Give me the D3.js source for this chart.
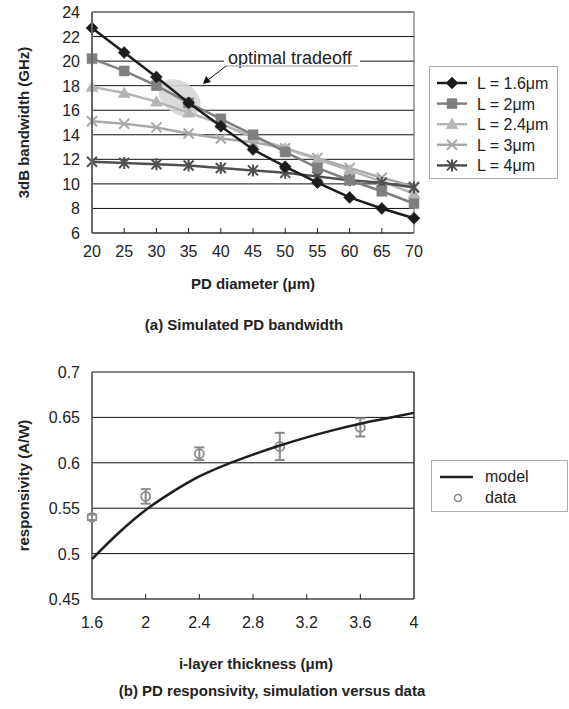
<!DOCTYPE html>
<html>
<head>
<meta charset="utf-8">
<script src="https://cdn.jsdelivr.net/npm/d3@7"></script>
<style>
  body { margin: 0; background: #fff; }
  text { font-family: "Liberation Sans", Arial, sans-serif; fill: #222; }
</style>
</head>
<body>
<svg id="chart" width="569" height="709"></svg>
<script>
// ---- data: (a) simulated bandwidth ----
const diameters = [20, 25, 30, 35, 40, 45, 50, 55, 60, 65, 70];
const bwL16 = [22.7, 20.7, 18.7, 16.6, 14.7, 12.8, 11.4, 10.1, 8.9, 8.0, 7.2];
const bwL2  = [20.2, 19.2, 18.0, 16.6, 15.3, 14.0, 12.6, 11.3, 10.3, 9.4, 8.4];
const bwL24 = [17.9, 17.4, 16.7, 15.8, 14.9, 13.8, 12.9, 12.0, 11.1, 10.2, 9.2];
const bwL3  = [15.1, 14.9, 14.6, 14.1, 13.7, 13.4, 12.9, 12.1, 11.3, 10.5, 9.8];
const bwL4  = [11.8, 11.7, 11.6, 11.5, 11.3, 11.1, 10.9, 10.6, 10.3, 10.1, 9.7];
const seriesNames = ["L = 1.6\u03bcm", "L = 2\u03bcm", "L = 2.4\u03bcm", "L = 3\u03bcm", "L = 4\u03bcm"];
const bwTicks = [6, 8, 10, 12, 14, 16, 18, 20, 22, 24];

// ---- data: (b) responsivity ----
const modelThickness = [1.6, 1.8, 2.0, 2.2, 2.4, 2.6, 2.8, 3.0, 3.2, 3.4, 3.6, 3.8, 4.0];
const modelResp      = [0.494, 0.523, 0.548, 0.568, 0.585, 0.598, 0.609, 0.619, 0.628, 0.636, 0.643, 0.649, 0.655];
const dataThickness  = [1.6, 2.0, 2.4, 3.0, 3.6];
const dataResp       = [0.540, 0.563, 0.610, 0.618, 0.639];
const dataErr        = [0.003, 0.008, 0.007, 0.015, 0.010];
const thickTicks = [1.6, 2, 2.4, 2.8, 3.2, 3.6, 4];
const respTicks  = [0.45, 0.5, 0.55, 0.6, 0.65, 0.7];

const svg = d3.select("#chart");
svg.append("rect").attr("width", 569).attr("height", 709).attr("fill", "#fff");

const PLOT_LEFT = 92, PLOT_RIGHT = 414;

// marker shapes drawn around (0,0)
function markerPath(type) {
  switch (type) {
    case "diamond":  return "M0,-6L6,0L0,6L-6,0Z";
    case "square":   return "M-5,-5H5V5H-5Z";
    case "triangle": return "M0,-6L6,4.5H-6Z";
    case "x":        return "M-5,-5L5,5M-5,5L5,-5";
    case "star":     return "M-5,-5L5,5M-5,5L5,-5M0,-6V6";
  }
}

const seriesStyle = [
  {color: "#1c1c1c", marker: "diamond"},
  {color: "#7f7f7f", marker: "square"},
  {color: "#b4b4b4", marker: "triangle"},
  {color: "#a9a9a9", marker: "x"},
  {color: "#505050", marker: "star"},
];

function drawMarker(g, type, color, x, y) {
  const filled = type !== "x" && type !== "star";
  g.append("path")
    .attr("d", markerPath(type))
    .attr("transform", `translate(${x},${y})`)
    .attr("fill", filled ? color : "none")
    .attr("stroke", color)
    .attr("stroke-width", filled ? 0.5 : 2);
}

// ================= (a) =================
const xA = d3.scaleLinear().domain([20, 70]).range([PLOT_LEFT, PLOT_RIGHT]);
const yA = d3.scaleLinear().domain([6, 24]).range([233, 12]);
const gA = svg.append("g");

gA.selectAll(".gridA").data(bwTicks.filter(d => d > 6)).enter().append("line")
  .attr("x1", PLOT_LEFT).attr("x2", PLOT_RIGHT)
  .attr("y1", d => yA(d)).attr("y2", d => yA(d))
  .attr("stroke", "#111").attr("stroke-width", 1);

gA.append("line").attr("x1", PLOT_RIGHT).attr("x2", PLOT_RIGHT)
  .attr("y1", yA(24)).attr("y2", yA(6)).attr("stroke", "#555").attr("stroke-width", 1);

// highlighted region
const ellX = xA(33.6), ellY = yA(17.0);
gA.append("ellipse")
  .attr("cx", ellX).attr("cy", ellY)
  .attr("rx", 23).attr("ry", 16)
  .attr("transform", `rotate(35, ${ellX}, ${ellY})`)
  .attr("fill", "#d6d6d6").attr("opacity", 0.9);

// annotation
gA.append("rect").attr("x", 224).attr("y", 48).attr("width", 136).attr("height", 18).attr("fill", "#fff");
gA.append("text").attr("x", 228).attr("y", 64).attr("font-size", 18).text("optimal tradeoff");
gA.append("line").attr("x1", 226).attr("x2", 358).attr("y1", 66).attr("y2", 66)
  .attr("stroke", "#bbb").attr("stroke-width", 1.5);
gA.append("line").attr("x1", 226).attr("y1", 66).attr("x2", 208).attr("y2", 80)
  .attr("stroke", "#111").attr("stroke-width", 1);
gA.append("path").attr("d", "M203,84L206,76L211,82Z").attr("fill", "#111");

const bwSeries = [bwL16, bwL2, bwL24, bwL3, bwL4];
const lineA = d3.line().x((d, i) => xA(diameters[i])).y(d => yA(d));

// draw light series first so the black one sits on top
[3, 2, 4, 1, 0].forEach(k => {
  const st = seriesStyle[k];
  gA.append("path").datum(bwSeries[k])
    .attr("d", lineA).attr("fill", "none")
    .attr("stroke", st.color).attr("stroke-width", 2.5);
  bwSeries[k].forEach((v, i) => drawMarker(gA, st.marker, st.color, xA(diameters[i]), yA(v)));
});

// axes
gA.append("line").attr("x1", PLOT_LEFT).attr("x2", PLOT_LEFT).attr("y1", yA(24)).attr("y2", yA(6))
  .attr("stroke", "#666").attr("stroke-width", 2);
gA.append("line").attr("x1", PLOT_LEFT).attr("x2", PLOT_RIGHT).attr("y1", yA(6)).attr("y2", yA(6))
  .attr("stroke", "#666").attr("stroke-width", 2);
gA.selectAll(".tickA").data(diameters.slice(1, -1)).enter().append("line")
  .attr("x1", d => xA(d)).attr("x2", d => xA(d)).attr("y1", yA(6)).attr("y2", yA(6) - 5)
  .attr("stroke", "#222");
gA.selectAll(".xlabA").data(diameters).enter().append("text")
  .attr("x", d => xA(d)).attr("y", 257).attr("text-anchor", "middle").attr("font-size", 16)
  .text(d => d);
gA.selectAll(".ylabA").data(bwTicks).enter().append("text")
  .attr("x", 80).attr("y", d => yA(d) + 6).attr("text-anchor", "end").attr("font-size", 16)
  .text(d => d);

gA.append("text").attr("transform", `translate(29, ${(yA(6) + yA(24)) / 2}) rotate(-90)`)
  .attr("text-anchor", "middle").attr("font-size", 15).attr("font-weight", "bold")
  .text("3dB bandwidth (GHz)");
gA.append("text").attr("x", 253).attr("y", 289).attr("text-anchor", "middle")
  .attr("font-size", 15).attr("font-weight", "bold").text("PD diameter (\u03bcm)");
gA.append("text").attr("x", 244).attr("y", 330).attr("text-anchor", "middle")
  .attr("font-size", 15).attr("font-weight", "bold").text("(a) Simulated PD bandwidth");

// legend (a)
const legA = gA.append("g");
legA.append("rect").attr("x", 429.5).attr("y", 66.5).attr("width", 128).attr("height", 112)
  .attr("fill", "#fff").attr("stroke", "#aaa");
seriesNames.forEach((name, k) => {
  const st = seriesStyle[k];
  const ly = 83 + k * 20.6;
  legA.append("line").attr("x1", 437).attr("x2", 467).attr("y1", ly).attr("y2", ly)
    .attr("stroke", st.color).attr("stroke-width", 2.5);
  drawMarker(legA, st.marker, st.color, 452, ly);
  legA.append("text").attr("x", 477).attr("y", ly + 6).attr("font-size", 16).text(name);
});

// ================= (b) =================
const xB = d3.scaleLinear().domain([1.6, 4]).range([PLOT_LEFT, PLOT_RIGHT]);
const yB = d3.scaleLinear().domain([0.45, 0.7]).range([599, 372]);
const gB = svg.append("g");

gB.selectAll(".gridB").data(respTicks.filter(d => d > 0.45)).enter().append("line")
  .attr("x1", PLOT_LEFT).attr("x2", PLOT_RIGHT)
  .attr("y1", d => yB(d)).attr("y2", d => yB(d))
  .attr("stroke", "#111").attr("stroke-width", 1);
gB.append("line").attr("x1", PLOT_RIGHT).attr("x2", PLOT_RIGHT)
  .attr("y1", yB(0.7)).attr("y2", yB(0.45)).attr("stroke", "#333").attr("stroke-width", 1.5);
gB.append("line").attr("x1", PLOT_LEFT).attr("x2", PLOT_LEFT).attr("y1", yB(0.7)).attr("y2", yB(0.45))
  .attr("stroke", "#444").attr("stroke-width", 1.5);
gB.append("line").attr("x1", PLOT_LEFT).attr("x2", PLOT_RIGHT).attr("y1", yB(0.45)).attr("y2", yB(0.45))
  .attr("stroke", "#444").attr("stroke-width", 1.5);
gB.selectAll(".tickB").data(thickTicks.slice(1, -1)).enter().append("line")
  .attr("x1", d => xB(d)).attr("x2", d => xB(d)).attr("y1", yB(0.45)).attr("y2", yB(0.45) - 5)
  .attr("stroke", "#222");

// data points with error bars
const dataColor = "#8a8a8a";
dataThickness.forEach((t, i) => {
  const cx = xB(t), lo = yB(dataResp[i] - dataErr[i]), hi = yB(dataResp[i] + dataErr[i]);
  gB.append("line").attr("x1", cx).attr("x2", cx).attr("y1", lo).attr("y2", hi)
    .attr("stroke", dataColor).attr("stroke-width", 2);
  [lo, hi].forEach(yy => gB.append("line").attr("x1", cx - 5).attr("x2", cx + 5)
    .attr("y1", yy).attr("y2", yy).attr("stroke", dataColor).attr("stroke-width", 2));
  gB.append("circle").attr("cx", cx).attr("cy", yB(dataResp[i])).attr("r", 4.5)
    .attr("fill", "none").attr("stroke", dataColor).attr("stroke-width", 1.8);
});

// model curve
gB.append("path").datum(modelResp)
  .attr("d", d3.line().x((d, i) => xB(modelThickness[i])).y(d => yB(d)).curve(d3.curveMonotoneX))
  .attr("fill", "none").attr("stroke", "#1e1e1e").attr("stroke-width", 2.5);

gB.selectAll(".xlabB").data(thickTicks).enter().append("text")
  .attr("x", d => xB(d)).attr("y", 628).attr("text-anchor", "middle").attr("font-size", 16)
  .text(d => d);
gB.selectAll(".ylabB").data(respTicks).enter().append("text")
  .attr("x", 80).attr("y", d => yB(d) + 6).attr("text-anchor", "end").attr("font-size", 16)
  .text(d => d);

gB.append("text").attr("transform", `translate(29, ${(yB(0.45) + yB(0.7)) / 2}) rotate(-90)`)
  .attr("text-anchor", "middle").attr("font-size", 15).attr("font-weight", "bold")
  .text("responsivity (A/W)");
gB.append("text").attr("x", 256).attr("y", 669).attr("text-anchor", "middle")
  .attr("font-size", 15).attr("font-weight", "bold").text("i-layer thickness (\u03bcm)");
gB.append("text").attr("x", 272).attr("y", 696).attr("text-anchor", "middle")
  .attr("font-size", 15).attr("font-weight", "bold").text("(b) PD responsivity, simulation versus data");

// legend (b)
const legB = gB.append("g");
legB.append("rect").attr("x", 431.5).attr("y", 460.5).attr("width", 136).attr("height", 51)
  .attr("fill", "#fff").attr("stroke", "#aaa");
legB.append("line").attr("x1", 440).attr("x2", 473).attr("y1", 477).attr("y2", 477)
  .attr("stroke", "#1e1e1e").attr("stroke-width", 2.5);
legB.append("text").attr("x", 485).attr("y", 482).attr("font-size", 16).text("model");
legB.append("circle").attr("cx", 458).attr("cy", 498).attr("r", 3.5)
  .attr("fill", "none").attr("stroke", dataColor).attr("stroke-width", 1.5);
legB.append("text").attr("x", 485).attr("y", 503).attr("font-size", 16).text("data");
</script>
</body>
</html>
